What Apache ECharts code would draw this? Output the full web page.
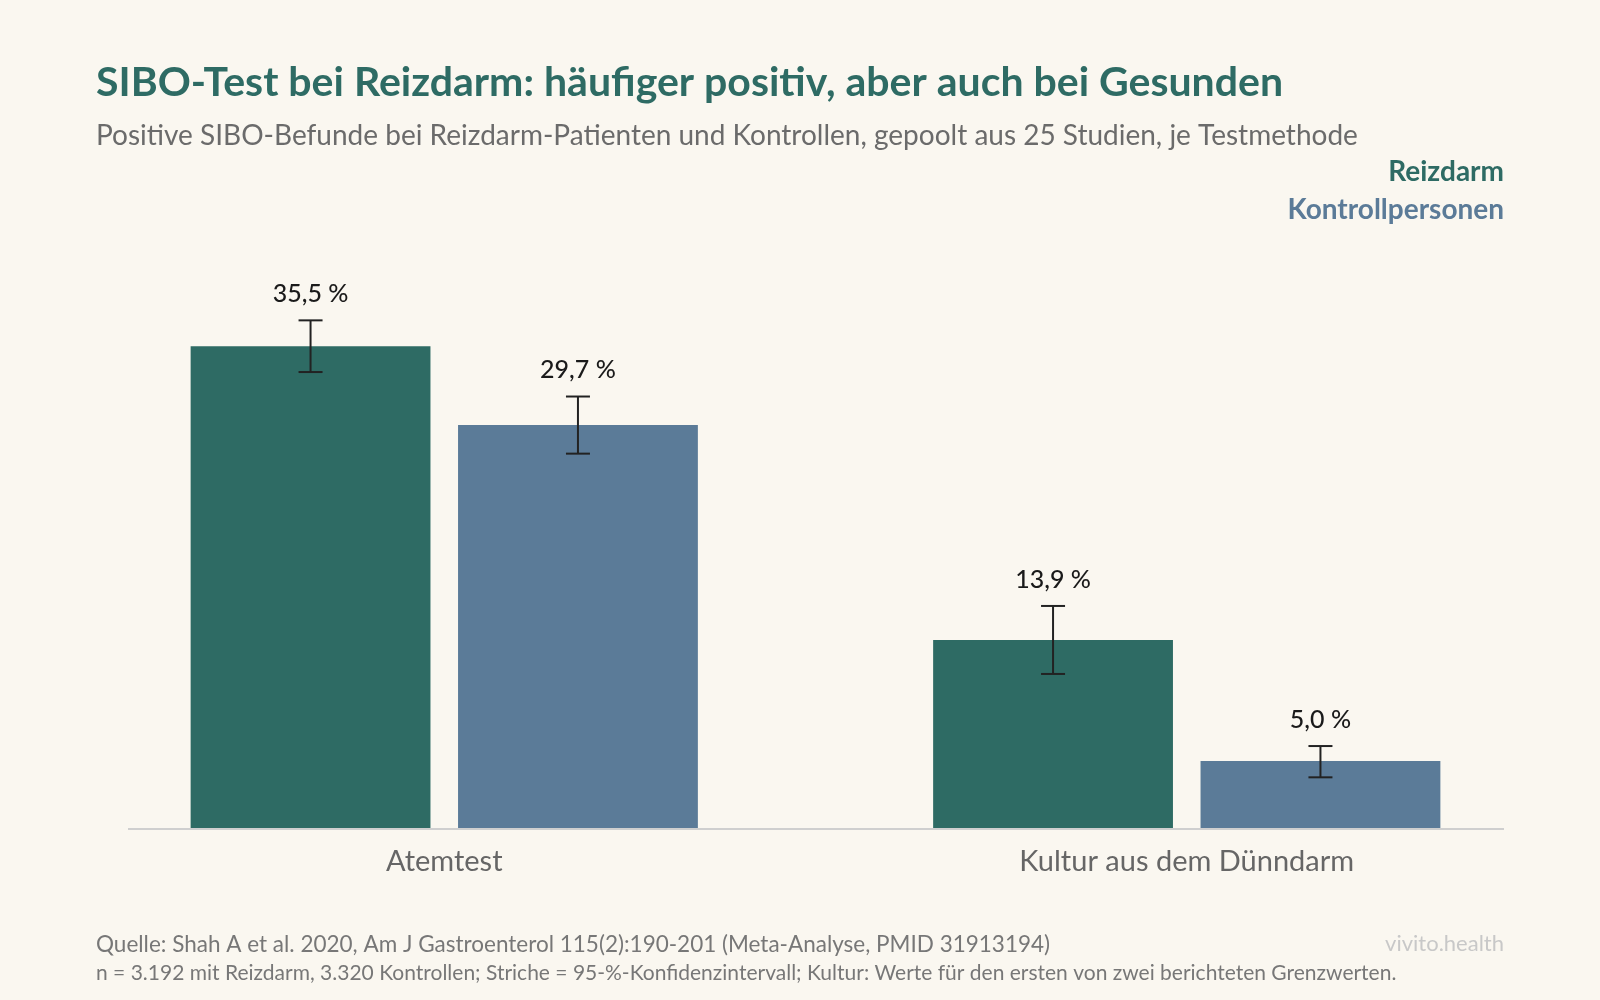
<!DOCTYPE html>
<html><head><meta charset="utf-8">
<script src="https://cdn.jsdelivr.net/npm/echarts@6/dist/echarts.min.js"></script>
<style>html,body{margin:0;background:#faf7f0}#c{width:1600px;height:1000px}</style>
</head><body><div id="c"></div>
<script>
const categories = ['Atemtest', 'Kultur aus dem Dünndarm'];
const reizdarm = [35.5, 13.9];
const kontrolle = [29.7, 5.0];
const reizLow = [33.6, 11.4], reizHigh = [37.4, 16.4];
const kontLow = [27.6, 3.8], kontHigh = [31.8, 6.1];
const GREEN = '#2e6b64', BLUE = '#5b7b98', F = 'Lato';
const BW = 0.323, GAP = 0.115;
function errSeries(name, low, high, vals, side) {
  return {
    type: 'custom', name: name, z: 10,
    data: categories.map((c, i) => [i, low[i], high[i], vals[i]]),
    renderItem: function (p, api) {
      const i = api.value(0);
      const cw = api.size([1, 0])[0];
      const bw = cw * BW, gap = bw * GAP;
      const off = side * (bw + gap) / 2;
      const lo = api.coord([i, api.value(1)]), hi = api.coord([i, api.value(2)]);
      const x = lo[0] + off, h = 12;
      const st = { stroke: '#222', lineWidth: 2 };
      const v = api.value(3).toFixed(1).replace('.', ',') + ' %';
      return { type: 'group', children: [
        { type: 'line', shape: { x1: x, y1: lo[1], x2: x, y2: hi[1] }, style: st },
        { type: 'line', shape: { x1: x - h, y1: lo[1], x2: x + h, y2: lo[1] }, style: st },
        { type: 'line', shape: { x1: x - h, y1: hi[1], x2: x + h, y2: hi[1] }, style: st },
        { type: 'text', style: { x: x, y: hi[1] - 14, text: v, align: 'center', verticalAlign: 'bottom', fill: '#1a1a1a', font: '500 25px ' + F } }
      ]};
    }
  };
}
const chart = echarts.init(document.getElementById('c'));
chart.setOption({
  backgroundColor: '#faf7f0',
  animation: false,
  grid: { left: 73, right: 42, top: 285, bottom: 171 },
  xAxis: { type: 'category', data: categories,
    axisLine: { show: false }, axisTick: { show: false },
    axisLabel: { color: '#666', fontFamily: F, fontSize: 29, margin: 18 } },
  yAxis: { type: 'value', min: 0, max: 40, show: false },
  series: [
    { type: 'bar', name: 'Reizdarm', data: reizdarm, barWidth: (BW * 100) + '%', barGap: (GAP * 100) + '%', itemStyle: { color: GREEN } },
    { type: 'bar', name: 'Kontrollpersonen', data: kontrolle, barWidth: (BW * 100) + '%', itemStyle: { color: BLUE } },
    errSeries('e1', reizLow, reizHigh, reizdarm, -1),
    errSeries('e2', kontLow, kontHigh, kontrolle, 1)
  ],
  graphic: [
    { type: 'line', z: 5, shape: { x1: 128, y1: 829, x2: 1504, y2: 829 }, style: { stroke: '#cfcfcf', lineWidth: 2 } },
    { type: 'text', left: 96, top: 62, style: { text: 'SIBO-Test bei Reizdarm: häufiger positiv, aber auch bei Gesunden', fill: GREEN, font: 'bold 41px ' + F } },
    { type: 'text', left: 96, top: 122, style: { text: 'Positive SIBO-Befunde bei Reizdarm-Patienten und Kontrollen, gepoolt aus 25 Studien, je Testmethode', fill: '#6b6b6b', font: '28px ' + F } },
    { type: 'text', right: 96, top: 158, style: { text: 'Reizdarm', fill: GREEN, font: 'bold 28px ' + F, align: 'right' } },
    { type: 'text', right: 96, top: 196, style: { text: 'Kontrollpersonen', fill: BLUE, font: 'bold 28px ' + F, align: 'right' } },
    { type: 'text', left: 96, top: 933, style: { text: 'Quelle: Shah A et al. 2020, Am J Gastroenterol 115(2):190-201 (Meta-Analyse, PMID 31913194)', fill: '#777', font: '22.5px ' + F } },
    { type: 'text', left: 96, top: 963, style: { text: 'n = 3.192 mit Reizdarm, 3.320 Kontrollen; Striche = 95-%-Konfidenzintervall; Kultur: Werte für den ersten von zwei berichteten Grenzwerten.', fill: '#777', font: '21px ' + F } },
    { type: 'text', right: 96, top: 933, style: { text: 'vivito.health', fill: '#c8c8c8', font: '22px ' + F, align: 'right' } }
  ]
});
</script></body></html>
